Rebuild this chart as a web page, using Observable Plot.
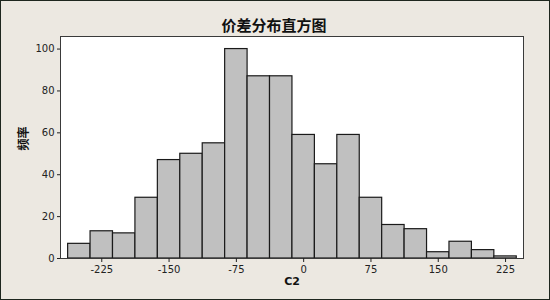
<!DOCTYPE html>
<html>
<head>
<meta charset="utf-8">
<script src="https://cdn.jsdelivr.net/npm/d3@7"></script>
<script src="https://cdn.jsdelivr.net/npm/@observablehq/plot@0.6"></script>
<style>
  html, body { margin: 0; padding: 0; background: #ece8e1; }
  #chart svg { display: block; outline: 1px solid #1e261e; outline-offset: -1px; }
</style>
</head>
<body>
<div id="chart"></div>
<script>
const title = "价差分布直方图";
const xLabel = "C2";
const yLabel = "频率";
const binCenters = [-250, -225, -200, -175, -150, -125, -100, -75, -50, -25, 0, 25, 50, 75, 100, 125, 150, 175, 200, 225];
const counts = [7, 13, 12, 29, 47, 50, 55, 100, 87, 87, 59, 45, 59, 29, 16, 14, 3, 8, 4, 1];
const binWidth = 25;
const xTicks = [-225, -150, -75, 0, 75, 150, 225];
const yTicks = [0, 20, 40, 60, 80, 100];

const bins = binCenters.map((c, i) => ({x1: c - binWidth / 2, x2: c + binWidth / 2, count: counts[i]}));

const chart = Plot.plot({
  width: 550,
  height: 300,
  marginLeft: 60,
  marginRight: 27,
  marginTop: 36,
  marginBottom: 42,
  style: {background: "#ece8e1", fontFamily: "'DejaVu Sans', sans-serif", fontSize: "10px", color: "#222"},
  x: {domain: [-271, 245], ticks: xTicks, tickFormat: d => String(d), tickSize: 4, tickPadding: 3, label: null},
  y: {domain: [0, 106], ticks: yTicks, tickFormat: d => String(d), tickSize: 3, tickPadding: 3, label: null},
  marks: [
    Plot.frame({fill: "white", stroke: null}),
    Plot.rectY(bins, {x1: "x1", x2: "x2", y: "count", fill: "#c0c0c0", stroke: "#1a1a1a", strokeWidth: 1.2}),
    Plot.frame({stroke: "#3a3a3a", strokeWidth: 1}),
    Plot.axisX({ticks: xTicks, tickFormat: d => String(d), tickSize: 4, tickPadding: 3, label: null, fontSize: 10}),
    Plot.axisY({ticks: yTicks, tickFormat: d => String(d), tickSize: 3, tickPadding: 3, label: null, fontSize: 10}),
    Plot.text([title], {frameAnchor: "top", dx: -18, dy: -6, lineAnchor: "bottom", text: d => d, fontSize: 15, fontWeight: "bold", fontFamily: "'Noto Sans CJK SC', sans-serif", fill: "#111"}),
    Plot.text([xLabel], {frameAnchor: "bottom", dy: 26, text: d => d, fontSize: 11, fontWeight: "bold", fill: "#111"}),
    Plot.text([yLabel], {frameAnchor: "left", dx: -36, dy: 3, rotate: -90, text: d => d, fontSize: 12, fontWeight: "bold", fontFamily: "'Noto Sans CJK SC', sans-serif", fill: "#111"})
  ]
});
document.getElementById("chart").appendChild(chart);
</script>
</body>
</html>
